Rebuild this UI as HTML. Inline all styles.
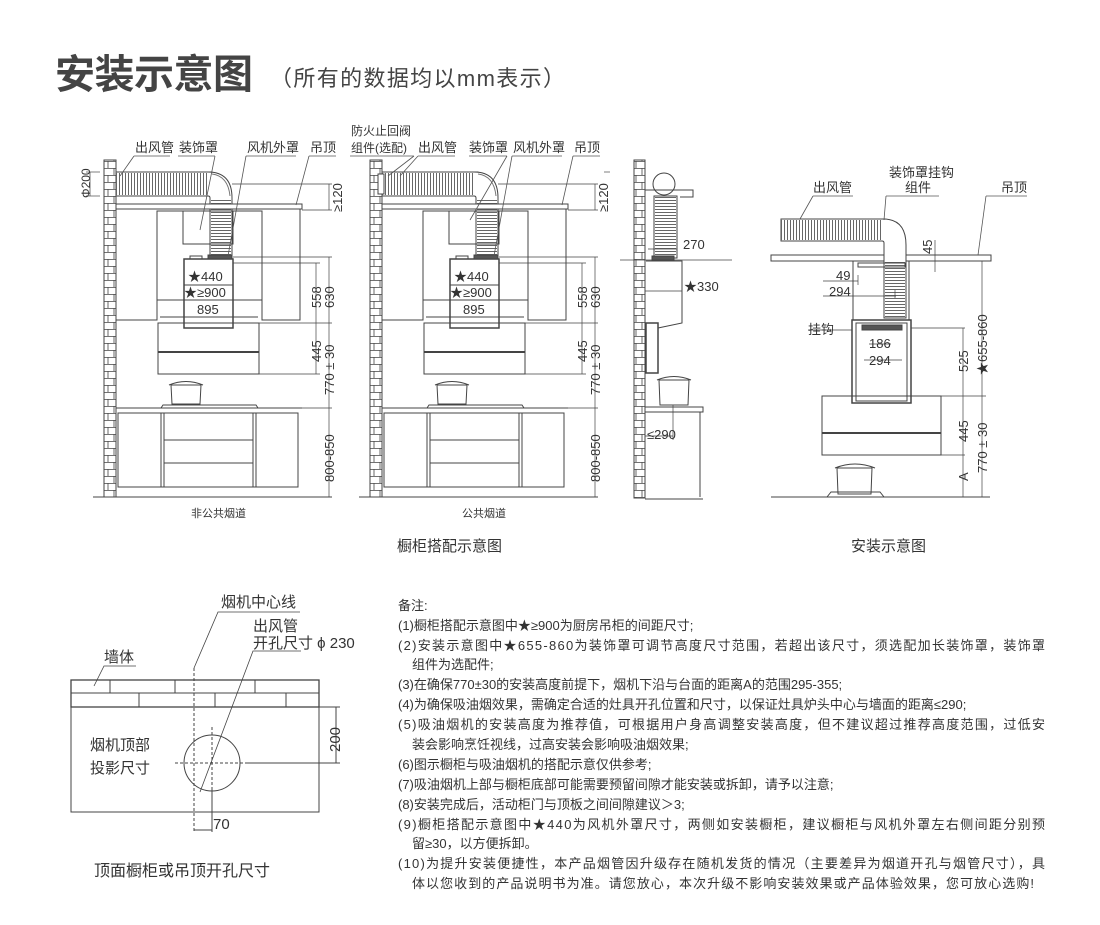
<!DOCTYPE html>
<html><head><meta charset="utf-8"><style>
html,body{margin:0;padding:0;background:#fff;width:1100px;height:925px;overflow:hidden}
svg{display:block}
text{font-family:"Liberation Sans","Noto Sans CJK SC",sans-serif;fill:#333}
</style></head><body>
<svg width="1100" height="925" viewBox="0 0 1100 925" xmlns="http://www.w3.org/2000/svg">
<defs>
<pattern id="brick" width="12" height="14" patternUnits="userSpaceOnUse">
<rect width="12" height="14" fill="#fff"/>
<path d="M0 0.5H12M0 7.5H12M6 0V7M0 7V14M12 7V14" stroke="#444" stroke-width="0.8" fill="none"/>
</pattern>
<g id="kit" fill="none" stroke="#444" stroke-width="1">
  <rect x="104" y="160" width="12" height="337" fill="url(#brick)"/>
  <rect x="116" y="172" width="96" height="24" fill="#fff"/>
  <line x1="116" y1="184" x2="210" y2="184" stroke="#666" stroke-width="22" stroke-dasharray="1 2"/>
  <path d="M208 172 Q232 172 232 198 L232 256 L210 256 L210 198 Q210 196 208 196" fill="#fff"/>
  <line x1="221" y1="200" x2="221" y2="256" stroke="#666" stroke-width="20" stroke-dasharray="1 2"/>
  <path d="M212 174 Q228 176 230 196" stroke="#777"/>
  <rect x="116" y="204" width="186" height="5" fill="#fff"/>
  <path d="M116 320H157V211H262V320H300V209"/>
  <rect x="183" y="211" width="50" height="33"/>
  <rect x="184" y="259" width="49" height="69" stroke-width="1.5"/>
  <rect x="190" y="256" width="12" height="3"/>
  <rect x="208" y="255" width="24" height="4" fill="#555"/>
  <line x1="184" y1="285" x2="233" y2="285"/><line x1="157" y1="300" x2="262" y2="300"/><line x1="160" y1="317" x2="258" y2="317"/>
  <rect x="158" y="323" width="101" height="51"/>
  <line x1="158" y1="352" x2="259" y2="352" stroke-width="2"/>
  <path d="M171 385H201L200 404H172Z"/><path d="M169 385Q186 378 203 385"/>
  <path d="M161 408L163 405H256L258 408"/>
  <line x1="116" y1="408" x2="302" y2="408"/>
  <rect x="118" y="413" width="180" height="74"/>
  <path d="M161 413V487M164 413V487M253 413V487M256 413V487M164 440H253M164 463H253"/>
  <line x1="93" y1="497" x2="332" y2="497"/>
  <path d="M233 257H332M233 263H320M259 323H332M259 374H320M302 408H332M302 497H332" stroke-width="0.7"/>
  <path d="M316 263V323M316 323V374M329 257V408M329 408V497" stroke-width="0.7"/>
  <path d="M302 210H332M232 184H332M329 184V210" stroke-width="0.7"/>
</g>
</defs>

<text x="55" y="88" font-size="40" font-weight="bold" textLength="198" style="fill:#444">安装示意图</text>
<text x="270" y="86" font-size="22" textLength="295" style="fill:#444">（所有的数据均以mm表示）</text>

<use href="#kit"/>
<use href="#kit" transform="translate(266,0)"/>

<g font-size="13">
<text x="135" y="152">出风管</text><text x="179" y="152">装饰罩</text><text x="247" y="152">风机外罩</text><text x="310" y="152">吊顶</text>
<path d="M134 156H170M178 156H215M246 156H296M309 156H336M134 156L120 176M215 156L200 230M246 156L228 256M309 156L296 205M86 172H100M86 196H100M90 172V196" stroke="#555" stroke-width="0.8" fill="none"/>
<text transform="translate(90,198) rotate(-90)" font-size="12">Φ200</text>
<text transform="translate(342,212) rotate(-90)">≥120</text>
<text x="188" y="281">★440</text><text x="184" y="297">★≥900</text><text x="197" y="314">895</text>
<text transform="translate(321,308) rotate(-90)">558</text><text transform="translate(334,308) rotate(-90)">630</text>
<text transform="translate(321,362) rotate(-90)">445</text><text transform="translate(334,395) rotate(-90)">770 ± 30</text>
<text transform="translate(334,482) rotate(-90)">800-850</text>
<text x="191" y="517" font-size="11">非公共烟道</text>

<text x="351" y="135" font-size="12">防火止回阀</text><text x="351" y="152" font-size="12">组件(选配)</text>
<text x="418" y="152">出风管</text><text x="469" y="152">装饰罩</text><text x="513" y="152">风机外罩</text><text x="574" y="152">吊顶</text>
<path d="M350 156H414M418 156H455M469 156H507M512 156H562M573 156H600M414 156L388 176M418 156L400 176M507 156L470 220M512 156L494 256M573 156L562 205M604 172H610" stroke="#555" stroke-width="0.8" fill="none"/>
<rect x="378" y="174" width="6" height="20" fill="#fff" stroke="#444"/>
<text transform="translate(608,212) rotate(-90)">≥120</text>
<text x="454" y="281">★440</text><text x="450" y="297">★≥900</text><text x="463" y="314">895</text>
<text transform="translate(587,308) rotate(-90)">558</text><text transform="translate(600,308) rotate(-90)">630</text>
<text transform="translate(587,362) rotate(-90)">445</text><text transform="translate(600,395) rotate(-90)">770 ± 30</text>
<text transform="translate(600,482) rotate(-90)">800-850</text>
<text x="462" y="517" font-size="11">公共烟道</text>
<text x="397" y="551" font-size="15">橱柜搭配示意图</text>
</g>

<!-- side view -->
<g fill="none" stroke="#444" stroke-width="1">
<rect x="634" y="160" width="11" height="338" fill="url(#brick)"/>
<circle cx="664" cy="184" r="11"/>
<path d="M645 190H693V197H680"/>
<rect x="654" y="196" width="23" height="62" fill="#fff"/>
<line x1="665.5" y1="197" x2="665.5" y2="257" stroke="#666" stroke-width="21" stroke-dasharray="1 2"/>
<rect x="652" y="256" width="22" height="5" fill="#555"/>
<line x1="620" y1="260" x2="732" y2="260" stroke-width="0.7"/>
<path d="M646 261H682V323L658 328"/>
<rect x="646" y="323" width="12" height="50" stroke-width="1.5"/>
<path d="M659 380H689L688 405H660Z"/><path d="M657 380Q674 373 691 380"/>
<path d="M645 407H703V412H645M700 412V497M645 499H703"/>
<path d="M645 291H682M648 249H677M645 436H673M673 405V440" stroke-width="0.7"/>
</g>
<g font-size="13">
<text x="683" y="249">270</text><text x="684" y="291">★330</text><text x="647" y="439">≤290</text>
</g>

<!-- install view -->
<g fill="none" stroke="#444" stroke-width="1">
<rect x="771" y="255" width="220" height="6" fill="#fff"/>
<rect x="781" y="219" width="104" height="22" fill="#fff"/>
<line x1="781" y1="230" x2="884" y2="230" stroke="#666" stroke-width="20" stroke-dasharray="1 2"/>
<path d="M883 219Q906 219 906 245V318H884V243Q884 241 882 241" fill="#fff"/>
<line x1="895" y1="262" x2="895" y2="317" stroke="#666" stroke-width="20" stroke-dasharray="1 2"/>
<path d="M853 261V320M909 261V320M858 263H905V267H858Z"/>
<rect x="852" y="320" width="59" height="83" stroke-width="1.5"/>
<rect x="856" y="323" width="51" height="78"/>
<rect x="862" y="325" width="40" height="5" fill="#555"/>
<rect x="822" y="396" width="119" height="59"/>
<line x1="822" y1="433" x2="941" y2="433" stroke-width="2"/>
<path d="M837 468H872L871 494H838Z"/><path d="M835 468Q855 460 875 468"/>
<line x1="771" y1="497" x2="990" y2="497"/>
<path d="M827 497L831 492H880L884 497"/>
<path d="M823 281H858M823 296H896M895 290V298M858 275V285M869 344H891M864 360H902M911 328H965M941 396H986M941 455H965M990 497H965M911 261H940M911 255H988" stroke-width="0.7"/>
<path d="M963 328V497M982 261V497M935 240V272M808 330H852" stroke-width="0.7"/>
<path d="M986 196H1027M986 196L978 255M886 196H939M886 196L884 220M813 196H853M813 196L800 219" stroke="#555" stroke-width="0.8"/>
</g>
<g font-size="13">
<text x="813" y="192">出风管</text><text x="889" y="177">装饰罩挂钩</text><text x="905" y="192">组件</text><text x="1001" y="192">吊顶</text>
<text x="836" y="280">49</text><text x="829" y="296">294</text><text x="808" y="334">挂钩</text>
<text x="869" y="348">186</text><text x="869" y="365">294</text>
<text transform="translate(932,254) rotate(-90)">45</text>
<text transform="translate(968,372) rotate(-90)">525</text>
<text transform="translate(987,375) rotate(-90)">★655-860</text>
<text transform="translate(968,442) rotate(-90)">445</text>
<text transform="translate(968,481) rotate(-90)">A</text>
<text transform="translate(987,473) rotate(-90)">770 ± 30</text>
</g>
<text x="851" y="551" font-size="15">安装示意图</text>

<!-- top view cut -->
<g fill="none" stroke="#444" stroke-width="1">
<rect x="71" y="680" width="248" height="27" stroke-width="1.3"/>
<line x1="71" y1="693" x2="319" y2="693"/>
<path d="M110 680V693M175 680V693M255 680V693M139 693V707M215 693V707M286 693V707"/>
<rect x="71" y="707" width="248" height="105"/>
<circle cx="212" cy="763" r="28"/>
<path d="M194 668V832M212 727V800M175 763H246" stroke-dasharray="3 2"/>
<path d="M246 763H340M319 707H340M336 707V763M212 790V832M194 830H212"/>
<path d="M94 686L104 666H136M194 668L218 612H300M200 792L253 651H301" stroke-width="0.8"/>
</g>
<g font-size="15">
<text x="104" y="662">墙体</text><text x="221" y="607">烟机中心线</text>
<text x="253" y="631">出风管</text><text x="253" y="648">开孔尺寸 ϕ 230</text>
<text x="90" y="750">烟机顶部</text><text x="90" y="773">投影尺寸</text>
<text transform="translate(340,752) rotate(-90)">200</text>
<text x="213" y="829">70</text>
<text x="94" y="876" font-size="16">顶面橱柜或吊顶开孔尺寸</text>
</g>

<g font-size="13" style="fill:#444">
<text x="398" y="610">备注:</text>
<text x="398" y="630">(1)橱柜搭配示意图中★≥900为厨房吊柜的间距尺寸;</text>
<text x="398" y="650" textLength="647">(2)安装示意图中★655-860为装饰罩可调节高度尺寸范围，若超出该尺寸，须选配加长装饰罩，装饰罩</text>
<text x="412" y="669">组件为选配件;</text>
<text x="398" y="689">(3)在确保770±30的安装高度前提下，烟机下沿与台面的距离A的范围295-355;</text>
<text x="398" y="709">(4)为确保吸油烟效果，需确定合适的灶具开孔位置和尺寸，以保证灶具炉头中心与墙面的距离≤290;</text>
<text x="398" y="729" textLength="647">(5)吸油烟机的安装高度为推荐值，可根据用户身高调整安装高度，但不建议超过推荐高度范围，过低安</text>
<text x="412" y="749">装会影响烹饪视线，过高安装会影响吸油烟效果;</text>
<text x="398" y="769">(6)图示橱柜与吸油烟机的搭配示意仅供参考;</text>
<text x="398" y="789">(7)吸油烟机上部与橱柜底部可能需要预留间隙才能安装或拆卸，请予以注意;</text>
<text x="398" y="809">(8)安装完成后，活动柜门与顶板之间间隙建议＞3;</text>
<text x="398" y="829" textLength="647">(9)橱柜搭配示意图中★440为风机外罩尺寸，两侧如安装橱柜，建议橱柜与风机外罩左右侧间距分别预</text>
<text x="412" y="848">留≥30，以方便拆卸。</text>
<text x="398" y="868" textLength="647">(10)为提升安装便捷性，本产品烟管因升级存在随机发货的情况（主要差异为烟道开孔与烟管尺寸），具</text>
<text x="412" y="888" textLength="622">体以您收到的产品说明书为准。请您放心，本次升级不影响安装效果或产品体验效果，您可放心选购!</text>
</g>
</svg>
</body></html>
